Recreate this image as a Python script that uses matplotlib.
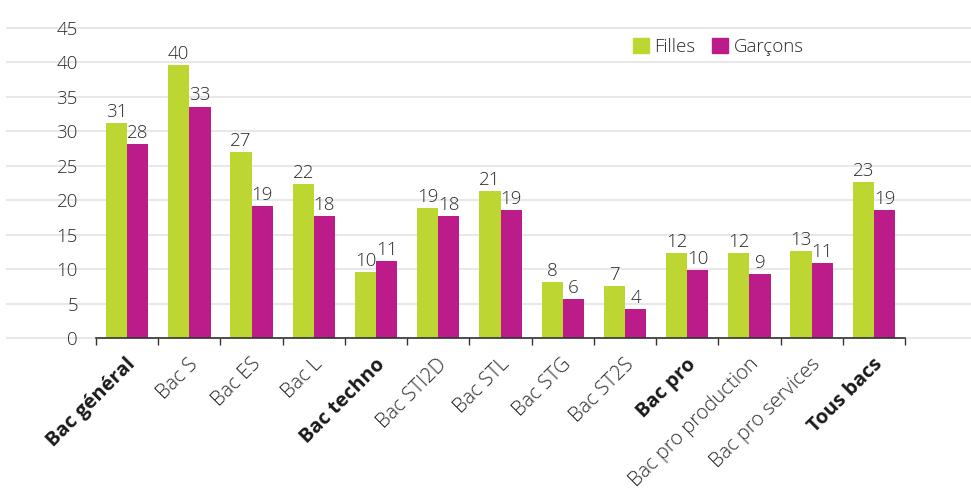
import numpy as np
import matplotlib.pyplot as plt
from matplotlib.patches import Patch

# categories and values
categories = ["Bac général", "Bac S", "Bac ES", "Bac L", "Bac techno",
              "Bac STI2D", "Bac STL", "Bac STG", "Bac ST2S", "Bac pro",
              "Bac pro production", "Bac pro services", "Tous bacs"]
bold_cats = ["Bac général", "Bac techno", "Bac pro", "Tous bacs"]
filles = [31.2, 39.6, 27.0, 22.4, 9.6, 18.8, 21.3, 8.1, 7.5, 12.4, 12.3, 12.6, 22.6]
garcons = [28.1, 33.6, 19.1, 17.7, 11.2, 17.7, 18.6, 5.7, 4.2, 9.9, 9.3, 10.9, 18.6]
filles_lbl = [31, 40, 27, 22, 10, 19, 21, 8, 7, 12, 12, 13, 23]
garcons_lbl = [28, 33, 19, 18, 11, 18, 19, 6, 4, 10, 9, 11, 19]
yticks = [0, 5, 10, 15, 20, 25, 30, 35, 40, 45]

green = "#bdd631"
magenta = "#bb1c8a"
txt = "#2a2a2a"
grid = "#e8e8e8"

plt.rcParams['font.family'] = ['Open Sans', 'DejaVu Sans']
fw = 'light'
fs = 13.5

fig = plt.figure(figsize=(9.71, 4.88), dpi=100)
ax = fig.add_axes([96/971, 150/488, 809/971, 310/488])

x = np.arange(len(categories))
w = 0.34
ax.bar(x - w/2, filles, w, color=green, zorder=3)
ax.bar(x + w/2, garcons, w, color=magenta, zorder=3)

#value labels
for i in range(len(categories)):
    ax.text(x[i] - w/2, filles[i] + 0.3, str(filles_lbl[i]), ha='center', va='bottom',
            fontsize=fs, color=txt, fontweight=fw, zorder=4)
    ax.text(x[i] + w/2, garcons[i] + 0.3, str(garcons_lbl[i]), ha='center', va='bottom',
            fontsize=fs, color=txt, fontweight=fw, zorder=4)

ax.set_xlim(-0.5, len(categories) - 0.5)
ax.set_ylim(0, 45)

#grid lines run past the axes on both sides
for v in yticks:
    ax.axhline(v, xmin=-0.11, xmax=1.082, color=grid, lw=1.5, clip_on=False, zorder=1)

ax.set_yticks(yticks)
ax.set_yticklabels([str(v) for v in yticks], fontsize=fs, color=txt, fontweight=fw)
ax.tick_params(axis='y', length=0, pad=13)

ax.set_xticks(np.arange(-0.5, len(categories)), minor=False)
ax.set_xticklabels([])
ax.tick_params(axis='x', length=5, width=1, color='#333333', direction='out')

for i, c in enumerate(categories):
    bold = c in bold_cats
    ax.text(x[i] - 0.02, -2.4, c, rotation=45, ha='right', va='top', rotation_mode='anchor',
            fontsize=14.5, color='#1a1a1a' if bold else txt,
            fontweight='bold' if bold else fw)

for s in ['top', 'right', 'left']:
    ax.spines[s].set_visible(False)
ax.spines['bottom'].set_color('#333333')
ax.spines['bottom'].set_linewidth(1.2)
ax.spines['bottom'].set_zorder(5)

handles = [Patch(color=green, label='Filles'), Patch(color=magenta, label='Garçons')]
leg = fig.legend(handles=handles, loc='center left', bbox_to_anchor=(616/971, 1 - 47/488),
                 ncol=2, frameon=False, fontsize=fs, handlelength=0.85, handleheight=0.85,
                 handletextpad=0.3, columnspacing=0.9)
for t in leg.get_texts():
    t.set_color(txt)
    t.set_fontweight(fw)

fig.savefig("out.png", dpi=100)
